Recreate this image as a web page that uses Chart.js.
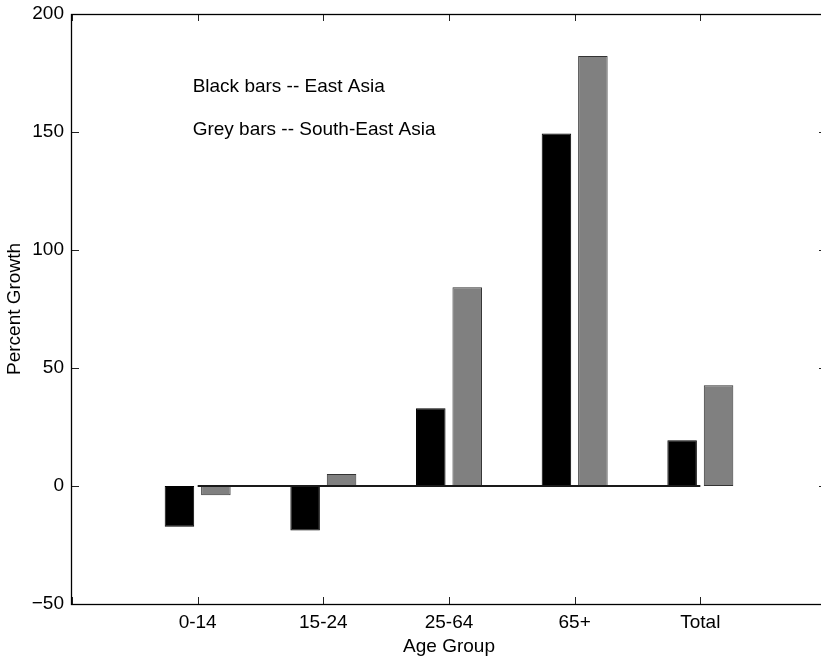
<!DOCTYPE html>
<html>
<head>
<meta charset="utf-8">
<script src="https://cdn.jsdelivr.net/npm/chart.js@4/dist/chart.umd.min.js"></script>
<style>
  html, body { margin: 0; padding: 0; background: #fff; overflow: hidden; }
  canvas { display: block; }
</style>
</head>
<body>
<canvas id="growth" width="830" height="658" style="width:830px;height:658px"></canvas>
<script>
const ageGroups = ['0-14', '15-24', '25-64', '65+', 'Total']
const eastAsia = [-17.3, -18.9, 32.9, 149.4, 19.4]
const southEastAsia = [-3.9, 5.1, 84.2, 182.2, 42.7]
const xTickLabels = ['', ...ageGroups, '']
const yTicks = [-50, 0, 50, 100, 150, 200]
const notes = ['Black bars -- East Asia', 'Grey bars -- South-East Asia']

// where the two notes sit, in axis units
const noteX = 0.96
const noteY = [169, 151]

const FONT = { family: "'Liberation Sans', Arial, Helvetica, sans-serif", size: 19 }
const TICK_LEN = 7

const toPoints = (values) => values.map((y, i) => ({ x: i + 1, y }))

// matlab-ish box with the ticks pointing inward on every side
const boxAxes = {
  id: 'boxAxes',
  afterDatasetsDraw(chart) {
    const { ctx, chartArea: a, scales: { x, y } } = chart
    ctx.save()
    ctx.strokeStyle = '#222'
    ctx.lineWidth = 1
    ctx.beginPath()
    x.ticks.forEach((t) => {
      const px = Math.round(x.getPixelForValue(t.value)) + 0.5
      ctx.moveTo(px, a.bottom); ctx.lineTo(px, a.bottom - TICK_LEN)
      ctx.moveTo(px, a.top); ctx.lineTo(px, a.top + TICK_LEN)
    })
    y.ticks.forEach((t) => {
      const py = Math.round(y.getPixelForValue(t.value)) + 0.5
      ctx.moveTo(a.left, py); ctx.lineTo(a.left + TICK_LEN, py)
      ctx.moveTo(a.right, py); ctx.lineTo(a.right - TICK_LEN, py)
    })
    ctx.stroke()
    ctx.strokeStyle = '#000'
    ctx.lineWidth = 1.3
    ctx.strokeRect(a.left - 0.5, a.top + 0.5, a.right - a.left, a.bottom - a.top)

    ctx.fillStyle = '#000'
    ctx.font = `${FONT.size}px ${FONT.family}`
    ctx.textAlign = 'left'
    ctx.textBaseline = 'middle'
    notes.forEach((text, i) => {
      ctx.fillText(text, x.getPixelForValue(noteX), y.getPixelForValue(noteY[i]))
    })
    ctx.restore()
  },
}

Chart.defaults.color = '#000'
Chart.defaults.font = { ...FONT }

new Chart(document.getElementById('growth').getContext('2d'), {
  type: 'bar',
  data: {
    datasets: [
      {
        type: 'line',
        label: 'zero',
        data: [{ x: 1, y: 0 }, { x: ageGroups.length, y: 0 }],
        borderColor: '#1a1a1a',
        borderWidth: 2,
        pointRadius: 0,
        order: 0,
      },
      {
        label: 'East Asia',
        data: toPoints(eastAsia),
        backgroundColor: '#000',
        borderColor: '#000',
        borderWidth: 1,
        borderSkipped: false,
        categoryPercentage: 0.58,
        barPercentage: 0.81,
        order: 1,
      },
      {
        label: 'South-East Asia',
        data: toPoints(southEastAsia),
        backgroundColor: '#808080',
        borderColor: '#333',
        borderWidth: 1,
        borderSkipped: false,
        categoryPercentage: 0.58,
        barPercentage: 0.81,
        order: 1,
      },
    ],
  },
  options: {
    responsive: false,
    animation: false,
    devicePixelRatio: 1,
    layout: { padding: { top: 14, right: 4, bottom: 0, left: 0 } },
    plugins: {
      legend: { display: false },
      tooltip: { enabled: false },
    },
    scales: {
      x: {
        type: 'linear',
        min: 0,
        max: xTickLabels.length - 1,
        offset: false,
        grid: { display: false, drawTicks: false },
        border: { display: false },
        ticks: {
          stepSize: 1,
          padding: 7,
          maxRotation: 0,
          autoSkip: false,
          callback: (v) => xTickLabels[v] ?? '',
        },
        title: { display: true, text: 'Age Group', padding: { top: 0, bottom: 0 } },
        afterFit: (scale) => {
          scale.height = 54
          scale.paddingLeft = 0
          scale.paddingRight = 0
        },
      },
      y: {
        min: yTicks[0],
        max: yTicks[yTicks.length - 1],
        grid: { display: false, drawTicks: false },
        border: { display: false },
        ticks: {
          stepSize: 50,
          padding: 8,
          callback: (v) => (v < 0 ? '\u2212' + Math.abs(v) : String(v)),
        },
        title: { display: true, text: 'Percent Growth', padding: { top: 3, bottom: 0 } },
        afterFit: (scale) => {
          scale.width = 72
          scale.paddingTop = 0
          scale.paddingBottom = 0
        },
      },
    },
  },
  plugins: [boxAxes],
})
</script>
</body>
</html>
